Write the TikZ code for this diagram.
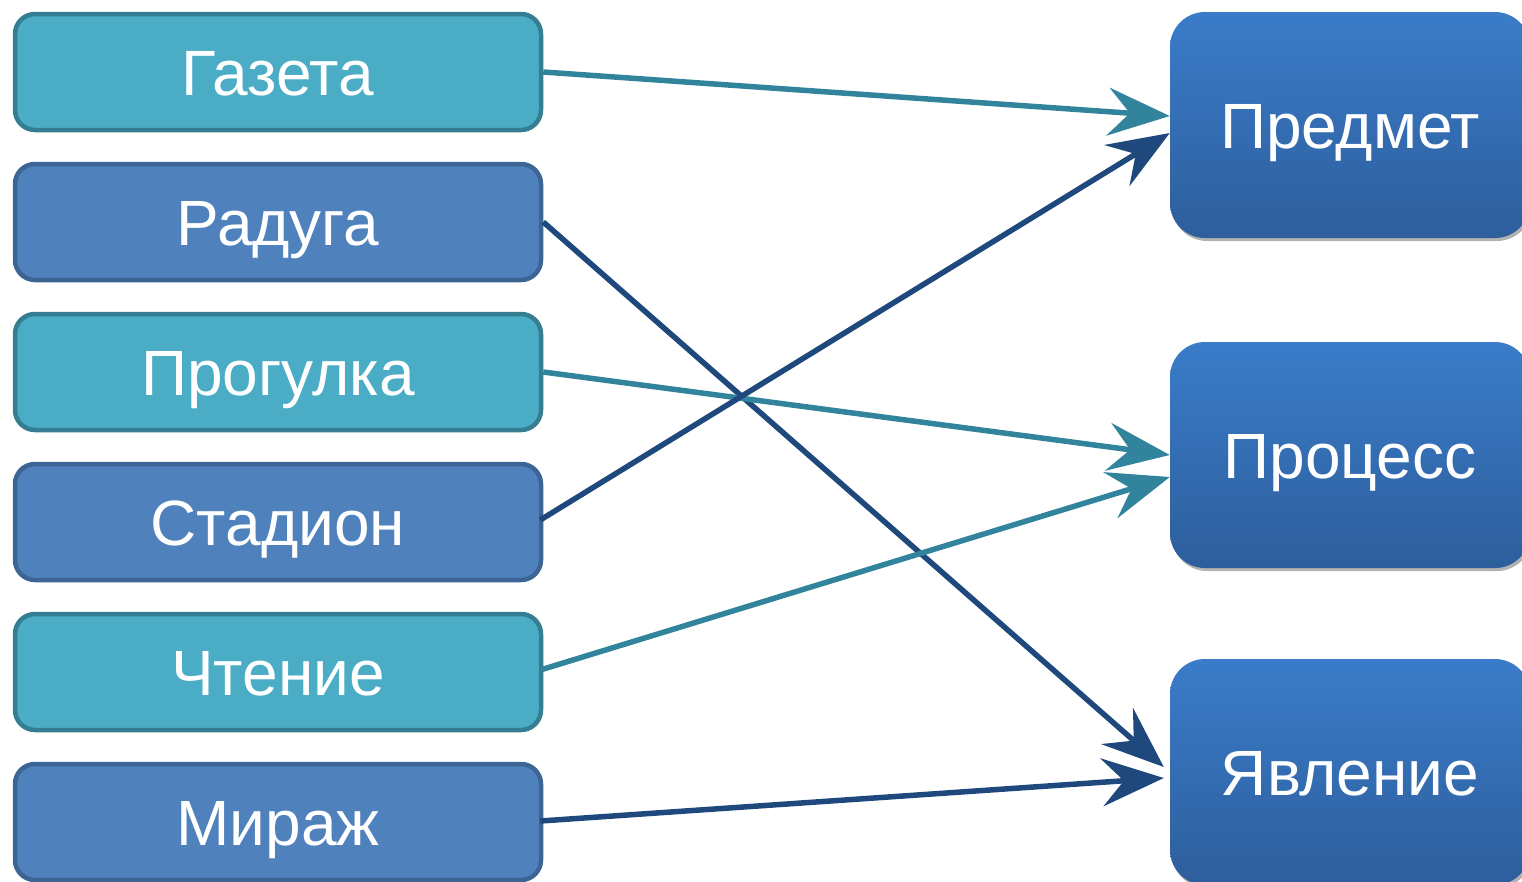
\documentclass[tikz,border=0pt]{standalone}
\usepackage{fontspec}
\setmainfont{Liberation Sans}
\usetikzlibrary{arrows.meta,shadows}
\definecolor{lightfill}{HTML}{4BACC6}
\definecolor{lightline}{HTML}{357D91}
\definecolor{darkfill}{HTML}{4F81BD}
\definecolor{darkline}{HTML}{3C6595}
\definecolor{tealarrow}{HTML}{31849B}
\definecolor{bluearrow}{HTML}{1F497D}
\definecolor{gradtop}{HTML}{3A7CC9}
\definecolor{gradbot}{HTML}{2E5E9C}
\tikzset{
  leftbox/.style={draw, line width=4.5pt, rounded corners=20pt, minimum width=526pt, minimum height=116pt,
    text=white, font=\fontsize{64}{70}\selectfont, text height=46pt, text depth=0pt, inner sep=0pt},
  lightbox/.style={leftbox, fill=lightfill, draw=lightline},
  darkbox/.style={leftbox, fill=darkfill, draw=darkline},
  rightbox/.style={rounded corners=35pt, minimum width=360pt, minimum height=226pt, inner sep=0pt,
    top color=gradtop, bottom color=gradbot, text=white,
    font=\fontsize{64}{70}\selectfont, text height=46pt, text depth=0pt,
    drop shadow={shadow xshift=2pt, shadow yshift=-3pt, fill=black, opacity=0.3}},
  conn/.style={line width=5.5pt, -{Stealth[length=62pt,width=48pt,inset=22pt]}},
  teal/.style={conn, draw=tealarrow},
  blue/.style={conn, draw=bluearrow},
}
\begin{document}
\begin{tikzpicture}[x=1pt,y=-1pt]
\useasboundingbox (0,0) rectangle (1522,881);
\clip (0,0) rectangle (1522,881);
\node[lightbox] (gaz) at (278,72) {Газета};
\node[darkbox] (rad) at (278,222) {Радуга};
\node[lightbox] (pro) at (278,372) {Прогулка};
\node[darkbox] (sta) at (278,522) {Стадион};
\node[lightbox] (cht) at (278,672) {Чтение};
\node[darkbox] (mir) at (278,822) {Мираж};
\node[rightbox] (pred) at (1350,125) {Предмет};
\node[rightbox] (proc) at (1350,455) {Процесс};
\node[rightbox] (yav) at (1350,772) {Явление};
\draw[teal] (gaz.east) -- ([yshift=9pt]pred.west);
\draw[blue] (rad.east) -- ([yshift=5pt,xshift=-6pt]yav.west);
\draw[teal] (pro.east) -- (proc.west);
\draw[blue] ([xshift=-3pt,yshift=2pt]sta.east) -- ([yshift=-8pt]pred.west);
\draw[teal] ([xshift=-3pt,yshift=2pt]cht.east) -- ([yshift=-22pt]proc.west);
\draw[blue] ([xshift=-3pt,yshift=1pt]mir.east) -- ([yshift=-6pt,xshift=-6pt]yav.west);
\end{tikzpicture}
\end{document}
